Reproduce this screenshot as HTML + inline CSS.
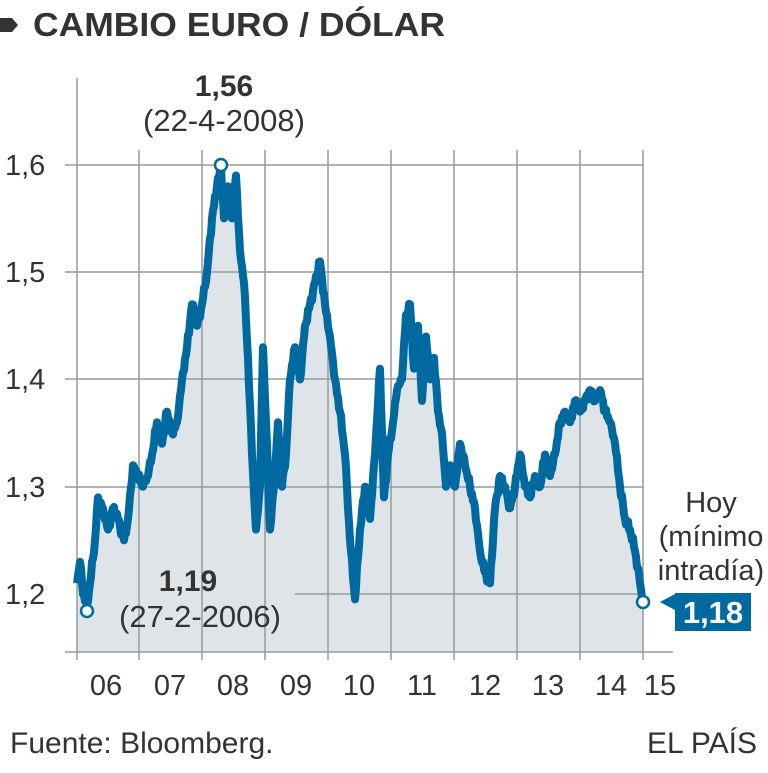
<!DOCTYPE html>
<html><head><meta charset="utf-8"><style>
body{margin:0;background:#fff;width:768px;height:768px;overflow:hidden;font-family:"Liberation Sans",sans-serif;}
</style></head><body>
<svg id="s" width="768" height="768" xmlns="http://www.w3.org/2000/svg" font-family="Liberation Sans, sans-serif">
<polygon points="0,18 12,18 18,25 12,32 0,32" fill="#333"/>
<text x="33" y="36" font-size="33" font-weight="bold" fill="#333" textLength="412" lengthAdjust="spacingAndGlyphs">CAMBIO EURO / DÓLAR</text>
<g id="area"></g>
<g stroke="#999" stroke-width="1.5">
<line x1="65" y1="165" x2="643" y2="165"/>
<line x1="65" y1="272" x2="643" y2="272"/>
<line x1="65" y1="379" x2="643" y2="379"/>
<line x1="65" y1="487" x2="643" y2="487"/>
<line x1="295" y1="594" x2="643" y2="594"/>
<line x1="65" y1="652" x2="673" y2="652"/>
<line x1="77" y1="78" x2="77" y2="660"/>
<line x1="139" y1="150" x2="139" y2="660"/>
<line x1="202" y1="150" x2="202" y2="660"/>
<line x1="265" y1="150" x2="265" y2="660"/>
<line x1="328" y1="150" x2="328" y2="660"/>
<line x1="391" y1="150" x2="391" y2="660"/>
<line x1="454" y1="150" x2="454" y2="660"/>
<line x1="517" y1="150" x2="517" y2="660"/>
<line x1="580" y1="150" x2="580" y2="660"/>
<line x1="643" y1="150" x2="643" y2="660"/>
</g>
<g id="line"></g>
<g font-size="29" fill="#333">
<text x="5" y="175">1,6</text><text x="5" y="282">1,5</text><text x="5" y="389">1,4</text><text x="5" y="497">1,3</text><text x="5" y="604">1,2</text>
<g text-anchor="middle">
<text x="106" y="695">06</text><text x="170" y="695">07</text><text x="233" y="695">08</text><text x="296" y="695">09</text><text x="359" y="695">10</text><text x="422" y="695">11</text><text x="485" y="695">12</text><text x="548" y="695">13</text><text x="611" y="695">14</text><text x="660" y="695">15</text>
<text x="224" y="96" font-weight="bold" font-size="30">1,56</text><text x="224" y="131" font-size="31">(22-4-2008)</text>
<text x="188" y="591" font-weight="bold" font-size="30">1,19</text><text x="200" y="627" font-size="31">(27-2-2006)</text>
<text x="711" y="512">Hoy</text><text x="711" y="546">(mínimo</text><text x="711" y="580">intradía)</text>
</g>
<text x="10" y="753" font-size="30">Fuente: Bloomberg.</text>
<text x="757" y="753" font-size="30" text-anchor="end">EL PAÍS</text>
</g>
<polygon points="660,602 675,594 675,610" fill="#0069a0"/>
<rect x="675" y="593" width="76" height="38" fill="#0069a0"/>
<text x="713" y="623" font-size="31" font-weight="bold" fill="#fff" text-anchor="middle">1,18</text>
<circle cx="221" cy="165" r="6" fill="#fff" stroke="#0069a0" stroke-width="2.5"/>
<circle cx="87" cy="611" r="6" fill="#fff" stroke="#0069a0" stroke-width="2.5"/>
<circle cx="643" cy="602" r="6" fill="#fff" stroke="#0069a0" stroke-width="2.5"/>
</svg>
<script>
var d=[[77,1.21],[80,1.23],[83,1.20],[87,1.19],[90,1.21],[95,1.25],[98,1.29],[103,1.28],[108,1.26],[113,1.28],[118,1.27],[124,1.25],[128,1.27],[133,1.32],[138,1.31],[143,1.30],[148,1.31],[152,1.33],[157,1.36],[162,1.34],[167,1.37],[172,1.35],[177,1.36],[182,1.40],[187,1.43],[192,1.47],[197,1.45],[202,1.47],[207,1.50],[212,1.55],[217,1.58],[221,1.598],[224,1.55],[228,1.58],[232,1.55],[236,1.59],[240,1.52],[244,1.49],[248,1.42],[252,1.33],[256,1.26],[260,1.30],[263,1.43],[266,1.36],[270,1.26],[274,1.30],[278,1.36],[282,1.30],[286,1.33],[290,1.40],[295,1.43],[300,1.40],[305,1.45],[310,1.47],[315,1.49],[320,1.51],[325,1.47],[330,1.44],[335,1.40],[340,1.37],[345,1.33],[350,1.25],[355,1.195],[360,1.26],[365,1.30],[370,1.27],[375,1.33],[380,1.41],[384,1.29],[388,1.33],[393,1.36],[397,1.39],[402,1.40],[406,1.46],[410,1.47],[414,1.41],[418,1.45],[422,1.38],[426,1.44],[430,1.40],[434,1.42],[438,1.37],[442,1.35],[446,1.30],[450,1.32],[455,1.30],[460,1.34],[465,1.32],[470,1.30],[475,1.28],[480,1.24],[485,1.22],[490,1.21],[495,1.28],[500,1.31],[505,1.30],[510,1.28],[515,1.30],[520,1.33],[525,1.30],[530,1.29],[535,1.31],[540,1.30],[545,1.33],[550,1.31],[555,1.33],[560,1.36],[565,1.37],[570,1.36],[575,1.38],[580,1.37],[585,1.38],[590,1.39],[595,1.38],[600,1.39],[605,1.37],[610,1.36],[615,1.34],[620,1.30],[625,1.27],[630,1.26],[635,1.24],[640,1.21],[643,1.192]];
var pts=[];
for(var i=0;i<d.length-1;i++){var a=d[i],b=d[i+1];for(var x=a[0];x<b[0];x+=1){var t=(x-a[0])/(b[0]-a[0]);var v=a[1]+(b[1]-a[1])*t;var y=594-(v-1.2)*1073;if(i>0&&x>a[0])y+=Math.sin(x*2.3)*3+Math.sin(x*5.1)*2;pts.push(x+","+y.toFixed(1));}}
pts.push("643,"+(594-(1.192-1.2)*1073).toFixed(1));
var p=pts.join(" ");
var ns="http://www.w3.org/2000/svg";
var ar=document.createElementNS(ns,"polygon");ar.setAttribute("points","77,652 "+p+" 643,652");ar.setAttribute("fill","#dfe4e8");document.getElementById("area").appendChild(ar);
var l=document.createElementNS(ns,"polyline");l.setAttribute("points",p);l.setAttribute("fill","none");l.setAttribute("stroke","#0069a0");l.setAttribute("stroke-width","8");l.setAttribute("stroke-linejoin","round");document.getElementById("line").appendChild(l);
</script>
</body></html>
